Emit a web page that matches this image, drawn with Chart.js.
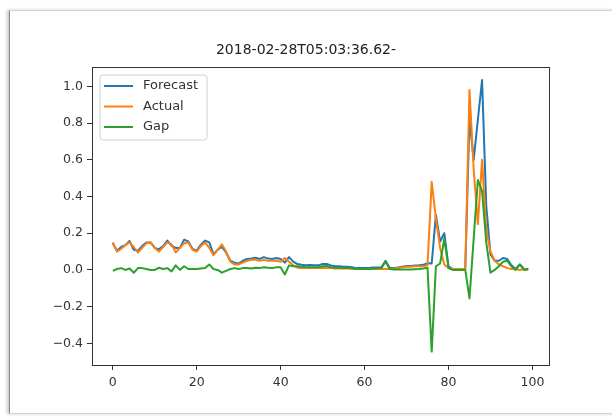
<!DOCTYPE html>
<html><head><meta charset="utf-8">
<script src="https://cdn.jsdelivr.net/npm/chart.js@4.4.0/dist/chart.umd.min.js"></script>
<style>
html,body{margin:0;padding:0;background:#fff;}
#wrap{position:relative;width:612px;height:419px;overflow:hidden;background:#fff;}
#frame{position:absolute;left:9px;top:10px;width:640px;height:402px;border-top:1px solid #d4d4d4;border-left:1px solid #8a8a8a;border-bottom:1px solid #d4d4d4;box-shadow:-2px 0 3px rgba(0,0,0,0.22);background:#fff;}
canvas{position:absolute;left:0;top:0;}
</style></head>
<body><div id="wrap"><div id="frame"></div><canvas id="c" width="612" height="419"></canvas></div>
<script>
const titleText = "2018-02-28T05:03:36.62-";
const steps = [0,1,2,3,4,5,6,7,8,9,10,11,12,13,14,15,16,17,18,19,20,21,22,23,24,25,26,27,28,29,30,31,32,33,34,35,36,37,38,39,40,41,42,43,44,45,46,47,48,49,50,51,52,53,54,55,56,57,58,59,60,61,62,63,64,65,66,67,68,69,70,71,72,73,74,75,76,77,78,79,80,81,82,83,84,85,86,87,88,89,90,91,92,93,94,95,96,97,98,99];
const forecast = [
0.145,0.105,0.125,0.135,0.158,0.11,0.105,0.13,0.15,0.15,
0.12,0.112,0.13,0.16,0.132,0.12,0.12,0.165,0.155,0.115,
0.105,0.138,0.16,0.15,0.085,0.11,0.125,0.095,0.05,0.04,
0.035,0.05,0.06,0.063,0.067,0.06,0.07,0.062,0.06,0.065,
0.06,0.04,0.07,0.045,0.032,0.028,0.025,0.027,0.025,0.025,
0.032,0.032,0.025,0.02,0.02,0.018,0.018,0.015,0.01,0.01,
0.01,0.01,0.013,0.013,0.015,0.05,0.01,0.01,0.013,0.018,
0.021,0.021,0.024,0.025,0.028,0.037,0.035,0.30,0.155,0.20,
0.02,0.005,0.005,0.005,0.005,0.825,0.6,0.82,1.035,0.35,
0.085,0.05,0.05,0.065,0.06,0.025,0.005,0.03,0.005,0.005];
const actual = [
0.15,0.10,0.115,0.135,0.15,0.125,0.095,0.12,0.145,0.15,
0.12,0.10,0.125,0.15,0.14,0.095,0.12,0.145,0.15,0.11,
0.10,0.13,0.15,0.12,0.08,0.11,0.14,0.10,0.045,0.03,
0.03,0.04,0.05,0.055,0.055,0.05,0.055,0.05,0.05,0.05,
0.045,0.065,0.045,0.025,0.012,0.01,0.01,0.012,0.01,0.01,
0.012,0.01,0.01,0.008,0.008,0.008,0.008,0.005,0.005,0.005,
0.005,0.005,0.005,0.005,0.005,0.005,0.005,0.008,0.01,0.015,
0.018,0.018,0.02,0.02,0.02,0.025,0.48,0.28,0.12,0.03,
0.01,0.005,0.005,0.005,0.005,0.98,0.55,0.25,0.6,0.22,
0.1,0.05,0.03,0.02,0.01,0.005,0.005,0.0,0.005,0.0];
const gap = [
-0.005,0.005,0.01,0.0,0.008,-0.015,0.01,0.01,0.005,0.0,
0.0,0.012,0.005,0.01,-0.008,0.025,0.0,0.02,0.005,0.005,
0.005,0.008,0.01,0.03,0.005,0.0,-0.015,-0.005,0.005,0.01,
0.005,0.01,0.01,0.008,0.012,0.01,0.015,0.012,0.01,0.015,
0.015,-0.025,0.025,0.02,0.02,0.018,0.015,0.015,0.015,0.015,
0.02,0.022,0.015,0.012,0.012,0.01,0.01,0.01,0.005,0.005,
0.005,0.005,0.008,0.008,0.01,0.045,0.005,0.002,0.003,0.003,
0.003,0.003,0.004,0.005,0.008,0.012,-0.445,0.02,0.035,0.17,
0.01,0.0,0.0,0.0,0.0,-0.155,0.17,0.49,0.43,0.15,
-0.015,0.0,0.02,0.045,0.05,0.02,0.0,0.03,0.0,0.005];
const xTicks = [0,20,40,60,80,100];
const yTicks = [-0.4,-0.2,0.0,0.2,0.4,0.6,0.8,1.0];
const seriesNames = ["Forecast","Actual","Gap"];
const seriesColors = ["#1f77b4","#ff7f0e","#2ca02c"];

const FONT = "'DejaVu Sans', sans-serif";
const toPts = arr => steps.map((x, i) => ({x: x, y: arr[i]}));

const boxAndLegend = {
  id: 'boxAndLegend',
  afterDatasetsDraw(chart) {
    const ctx = chart.ctx, a = chart.chartArea;
    ctx.save();
    ctx.strokeStyle = '#333';
    ctx.lineWidth = 1;
    ctx.strokeRect(Math.round(a.left) + 0.5, Math.round(a.top) + 0.5, Math.round(a.right - a.left), Math.round(a.bottom - a.top));
    // title (centred as in the reference screenshot)
    ctx.fillStyle = '#222';
    ctx.font = '14px ' + FONT;
    ctx.textAlign = 'center';
    ctx.textBaseline = 'middle';
    ctx.fillText(titleText, 306, 50);
    // legend
    const lx = a.left + 8, ly = a.top + 8, lw = 107, lh = 65, r = 3;
    ctx.beginPath();
    ctx.moveTo(lx + r, ly);
    ctx.arcTo(lx + lw, ly, lx + lw, ly + lh, r);
    ctx.arcTo(lx + lw, ly + lh, lx, ly + lh, r);
    ctx.arcTo(lx, ly + lh, lx, ly, r);
    ctx.arcTo(lx, ly, lx + lw, ly, r);
    ctx.closePath();
    ctx.fillStyle = 'rgba(255,255,255,0.85)';
    ctx.fill();
    ctx.strokeStyle = '#d0d0d0';
    ctx.stroke();
    ctx.font = '13px ' + FONT;
    ctx.textBaseline = 'middle';
    ctx.textAlign = 'left';
    chart.data.datasets.forEach((ds, i) => {
      const cy = ly + 11 + i * 20.5;
      ctx.strokeStyle = ds.borderColor;
      ctx.lineWidth = 2;
      ctx.beginPath();
      ctx.moveTo(lx + 4, cy);
      ctx.lineTo(lx + 33, cy);
      ctx.stroke();
      ctx.fillStyle = '#333';
      ctx.fillText(ds.label, lx + 43, cy);
    });
    ctx.restore();
  }
};

new Chart(document.getElementById('c'), {
  type: 'line',
  data: {
    datasets: [
      {label: seriesNames[0], data: toPts(forecast), borderColor: seriesColors[0], order: 3},
      {label: seriesNames[1], data: toPts(actual), borderColor: seriesColors[1], order: 2},
      {label: seriesNames[2], data: toPts(gap), borderColor: seriesColors[2], order: 1}
    ]
  },
  options: {
    responsive: false,
    devicePixelRatio: 1,
    animation: false,
    events: [],
    elements: {
      line: {borderWidth: 2, tension: 0, fill: false, borderCapStyle: 'butt', borderJoinStyle: 'round'},
      point: {radius: 0}
    },
    layout: {padding: {left: 0, right: 63, top: 67, bottom: 0}},
    plugins: {
      legend: {display: false},
      tooltip: {enabled: false},
      title: {display: false}
    },
    scales: {
      x: {
        type: 'linear', min: -4.95, max: 103.95,
        afterBuildTicks: s => { s.ticks = xTicks.map(v => ({value: v})); },
        afterFit: s => { s.height = 54; },
        grid: {drawOnChartArea: false, drawTicks: true, tickLength: 5, color: '#333', lineWidth: 1},
        border: {display: false},
        ticks: {color: '#333', font: {family: FONT, size: 12.5}, padding: 5, maxRotation: 0, callback: v => String(v)}
      },
      y: {
        type: 'linear', min: -0.518, max: 1.106,
        afterBuildTicks: s => { s.ticks = yTicks.map(v => ({value: v})); },
        afterFit: s => { s.width = 92; },
        grid: {drawOnChartArea: false, drawTicks: true, tickLength: 5, color: '#333', lineWidth: 1},
        border: {display: false},
        ticks: {color: '#333', font: {family: FONT, size: 12.5}, padding: 4, callback: v => v.toFixed(1).replace('-', '\u2212')}
      }
    }
  },
  plugins: [boxAndLegend]
});
</script>
</body></html>
